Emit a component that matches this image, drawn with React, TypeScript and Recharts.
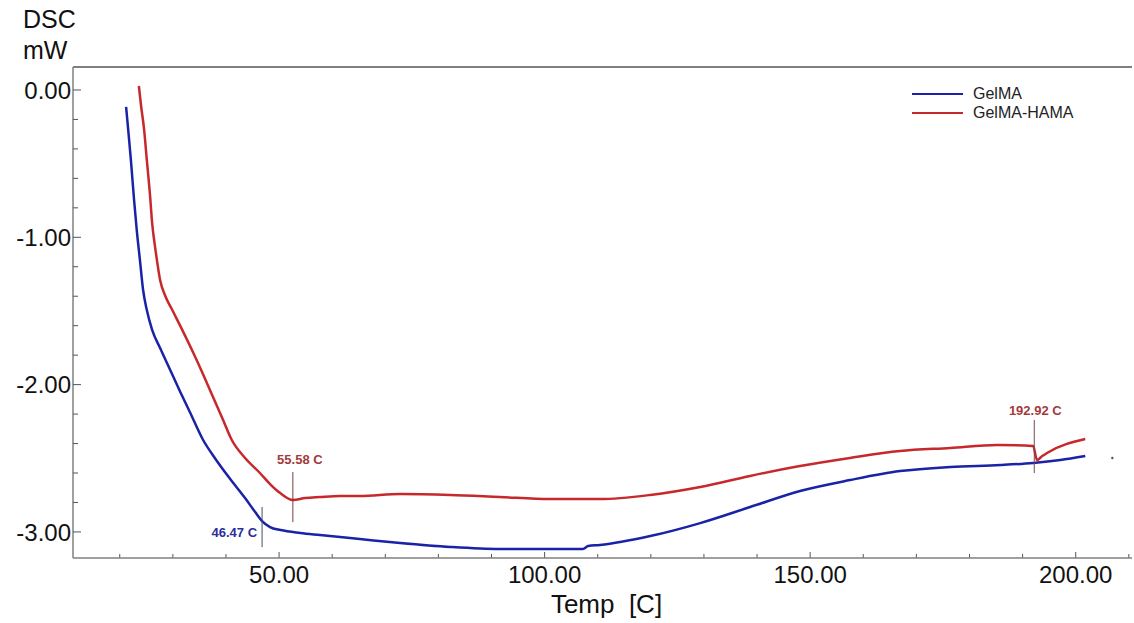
import { LineChart, Line, XAxis, YAxis, ReferenceLine, ReferenceDot } from "recharts";

// GelMA curve (Temp [C], DSC [mW])
const gelmaTemp = [
  21.2, 21.6, 22.1, 22.7, 23.2, 23.8, 24.4, 25.1, 26.1, 27.6, 29.5, 31.4, 33.2, 35.7, 37.9, 40.8,
  43.6, 45.5, 46.8, 48.3, 50.3, 54.0, 57.7, 61.5, 65.2, 72.8, 82.2, 91.6, 99.1, 102.9, 107.2,
  108.2, 110.4, 119.9, 129.3, 138.7, 148.1, 157.5, 166.9, 176.4, 185.8, 192.0, 197.1, 201.8,
];
const gelmaDsc = [
  -0.115, -0.272, -0.475, -0.747, -0.95, -1.154, -1.358, -1.494, -1.629, -1.752, -1.901, -2.05,
  -2.186, -2.376, -2.498, -2.641, -2.77, -2.865, -2.926, -2.967, -2.987, -3.007, -3.021, -3.035,
  -3.048, -3.075, -3.102, -3.116, -3.116, -3.116, -3.116, -3.096, -3.089, -3.028, -2.94, -2.831,
  -2.722, -2.648, -2.587, -2.559, -2.546, -2.532, -2.512, -2.485,
];

// GelMA-HAMA curve
const hamaTemp = [
  23.6, 24.0, 24.6, 25.1, 25.7, 26.1, 26.6, 27.0, 27.6, 28.5, 29.8, 31.7, 33.6, 35.5, 37.4, 39.3,
  41.1, 43.6, 46.4, 48.3, 50.2, 52.6, 54.9, 57.7, 61.5, 65.2, 72.8, 82.2, 91.6, 101.0, 110.4,
  119.9, 129.3, 138.7, 148.1, 157.5, 166.9, 176.4, 185.2, 192.0, 192.7, 193.7, 194.6, 201.8,
];
const hamaDsc = [
  0.027, -0.102, -0.272, -0.475, -0.713, -0.903, -1.052, -1.154, -1.29, -1.392, -1.487, -1.623,
  -1.765, -1.914, -2.071, -2.227, -2.376, -2.498, -2.6, -2.675, -2.736, -2.783, -2.77, -2.763,
  -2.756, -2.756, -2.743, -2.749, -2.763, -2.777, -2.777, -2.749, -2.695, -2.62, -2.553, -2.498,
  -2.451, -2.43, -2.41, -2.417, -2.512, -2.485, -2.464, -2.369,
];

const xTicks = [20, 30, 40, 50, 60, 70, 80, 90, 100, 110, 120, 130, 140, 150, 160, 170, 180, 190, 200, 210];
const xLabels = [50, 100, 150, 200];
const yTicks = [0, -0.2, -0.4, -0.6, -0.8, -1, -1.2, -1.4, -1.6, -1.8, -2, -2.2, -2.4, -2.6, -2.8, -3];
const yLabels = [0, -1, -2, -3];

// peak markers
const peakText = ["46.47 C", "55.58 C", "192.92 C"];
const peakTemp = [46.8, 52.6, 192.2];
const peakTop = [-2.831, -2.593, -2.24];
const peakBottom = [-3.103, -2.933, -2.6];
const peakColor = ["#2b2f9c", "#a33a3c", "#a33a3c"];
const peakLine = ["#4a4a6a", "#7a3a3a", "#7a4a4a"];

const X_DOMAIN: [number, number] = [11.2, 210.6];
const Y_DOMAIN: [number, number] = [-3.177, 0.156];
// inward tick lengths in mW (6px / 4px at this scale)
const MAJOR_TICK = 0.041;
const MINOR_TICK = 0.027;

const BLUE = "#1a22a6";
const RED = "#c6282c";
const AXIS = "#808080";
const FONT = "'Liberation Sans', Arial, sans-serif";

const toPoints = (t: number[], v: number[]) => t.map((x, i) => ({ temp: x, dsc: v[i] }));
const gelma = toPoints(gelmaTemp, gelmaDsc);
const hama = toPoints(hamaTemp, hamaDsc);

const series = [
  { name: "GelMA", color: BLUE, data: gelma },
  { name: "GelMA-HAMA", color: RED, data: hama },
];

const XTick = (props: any) => {
  const { x, y, payload } = props;
  if (!xLabels.includes(payload.value)) return <g />;
  return (
    <text x={x} y={y + 25} textAnchor="middle" fontSize={24} fontFamily={FONT} fill="#111">
      {payload.value.toFixed(2)}
    </text>
  );
};

const YTick = (props: any) => {
  const { x, y, payload } = props;
  const major = yLabels.includes(payload.value);
  return (
    <g>
      <line x1={x} x2={x + (major ? 8 : 5)} y1={y} y2={y} stroke="#555" strokeWidth={1} />
      {major && (
        <text x={x - 2} y={y} dy="0.36em" textAnchor="end" fontSize={24} fontFamily={FONT} fill="#111">
          {payload.value.toFixed(2)}
        </text>
      )}
    </g>
  );
};

const labelOffset = [
  { dx: -5, dy: 30, anchor: "end" },
  { dx: 7, dy: -8, anchor: "middle" },
  { dx: 1, dy: -5, anchor: "middle" },
];

export default function App() {
  return (
    <div style={{ position: "absolute", left: 0, top: 0, width: 1134, height: 623, background: "#fff" }}>
      <div style={{ position: "absolute", left: 23, top: 4, fontFamily: FONT, fontSize: 25, lineHeight: "31px", color: "#111" }}>
        DSC
        <br />
        mW
      </div>
      <div style={{ position: "absolute", left: 912, top: 84, fontFamily: FONT, fontSize: 16, color: "#222", zIndex: 2 }}>
        {series.map((s) => (
          <div key={s.name} style={{ display: "flex", alignItems: "center", height: 19 }}>
            <span style={{ width: 51, borderTop: `2.5px solid ${s.color}`, marginRight: 10 }} />
            {s.name}
          </div>
        ))}
      </div>
      <LineChart width={1134} height={623} margin={{ top: 67, right: 2, bottom: 35, left: 13 }}>
        <XAxis
          type="number"
          dataKey="temp"
          domain={X_DOMAIN}
          allowDataOverflow
          ticks={xTicks}
          interval={0}
          tickSize={0}
          tickMargin={0}
          tickLine={false}
          tick={<XTick />}
          axisLine={{ stroke: AXIS, strokeWidth: 1.5 }}
          height={30}
          label={{
            content: (p: any) => {
              const vb = p.viewBox;
              return (
                <text
                  x={vb.x + vb.width / 2 + 4}
                  y={613}
                  textAnchor="middle"
                  fontSize={26}
                  fontFamily={FONT}
                  fill="#111"
                  style={{ whiteSpace: "pre" }}
                >
                  {"Temp  [C]"}
                </text>
              );
            },
          }}
        />
        <YAxis
          type="number"
          dataKey="dsc"
          domain={Y_DOMAIN}
          allowDataOverflow
          ticks={yTicks}
          interval={0}
          tickSize={0}
          tickMargin={0}
          tickLine={false}
          tick={<YTick />}
          axisLine={{ stroke: AXIS, strokeWidth: 1.5 }}
          width={60}
        />
        <ReferenceLine y={Y_DOMAIN[1]} stroke={AXIS} strokeWidth={2} />
        {xTicks.map((t) => (
          <ReferenceLine
            key={`xt-${t}`}
            segment={[
              { x: t, y: Y_DOMAIN[0] },
              { x: t, y: Y_DOMAIN[0] + (xLabels.includes(t) ? MAJOR_TICK : MINOR_TICK) },
            ]}
            stroke="#555"
            strokeWidth={1}
          />
        ))}
        {series.map((s) => (
          <Line
            key={s.name}
            data={s.data}
            dataKey="dsc"
            name={s.name}
            type="monotone"
            stroke={s.color}
            strokeWidth={2.5}
            dot={false}
            isAnimationActive={false}
          />
        ))}
        {peakText.map((t, i) => (
          <ReferenceLine
            key={`pl-${t}`}
            segment={[
              { x: peakTemp[i], y: peakTop[i] },
              { x: peakTemp[i], y: peakBottom[i] },
            ]}
            stroke={peakLine[i]}
            strokeWidth={1}
          />
        ))}
        {peakText.map((t, i) => (
          <ReferenceDot
            key={`pt-${t}`}
            x={peakTemp[i]}
            y={peakTop[i]}
            r={0}
            shape={(p: any) => (
              <text
                x={p.cx + labelOffset[i].dx}
                y={p.cy + labelOffset[i].dy}
                textAnchor={labelOffset[i].anchor as any}
                fontSize={13}
                fontWeight="bold"
                fontFamily={FONT}
                fill={peakColor[i]}
              >
                {t}
              </text>
            )}
          />
        ))}
        <ReferenceDot x={206.9} y={-2.498} r={1.2} fill="#555" stroke="none" />
      </LineChart>
    </div>
  );
}
